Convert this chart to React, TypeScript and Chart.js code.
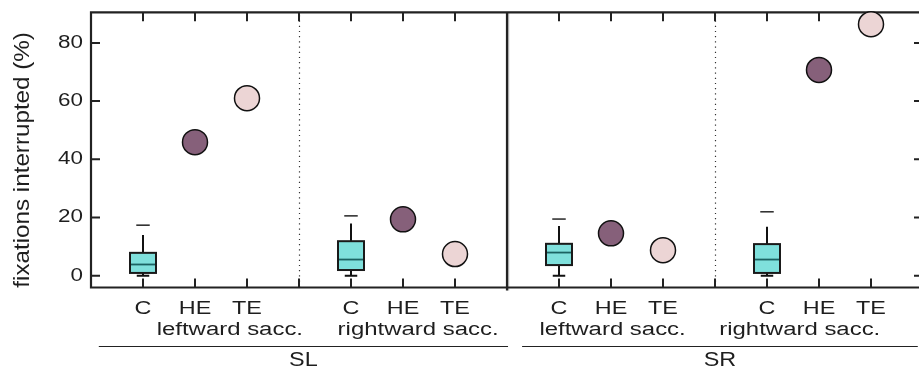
import React, { useEffect, useRef } from 'react';
import { Chart, registerables } from 'chart.js';

Chart.register(...registerables);

// ---------- data ----------
const conditions = ['C', 'HE', 'TE'];
const directions = ['leftward sacc.', 'rightward sacc.', 'leftward sacc.', 'rightward sacc.'];
const sides = ['SL', 'SR'];
const yTickValues = [0, 20, 40, 60, 80];
const yAxisTitle = 'fixations interrupted (%)';

// control (C) box plots, one per group
const boxLow = [0, 0, 0, 0];
const boxQ1 = [1.0, 2.0, 3.7, 1.0];
const boxMedian = [3.9, 5.6, 8.0, 5.6];
const boxQ3 = [7.9, 11.9, 11.0, 10.9];
const boxHigh = [14.0, 18.0, 17.1, 16.9];
const boxOutlier = [17.4, 20.6, 19.5, 22.0];

// single values for HE and TE
const heValues = [45.9, 19.4, 14.6, 70.7];
const teValues = [61.0, 7.5, 8.8, 86.4];

// ---------- layout / style ----------
const FONT = "'Liberation Sans', Arial, Helvetica, sans-serif";
const TEXT = '#1e1e1e';
const GROUP_SPAN = 4; // C, HE, TE, separator
const directionLabelOffset = [1.67, 1.29, 1.03, 0.63];
const sideLineRange = [
  [-0.85, 7.02],
  [7.29, 14.9],
];

function drawText(
  ctx: CanvasRenderingContext2D,
  text: string,
  x: number,
  y: number,
  size: number,
  sx: number,
  align: CanvasTextAlign,
  baseline: CanvasTextBaseline = 'alphabetic',
  rotate = 0
) {
  ctx.save();
  ctx.translate(x, y);
  if (rotate) ctx.rotate(rotate);
  ctx.scale(sx, 1);
  ctx.font = `${size}px ${FONT}`;
  ctx.textAlign = align;
  ctx.textBaseline = baseline;
  ctx.fillStyle = TEXT;
  ctx.fillText(text, 0, 0);
  ctx.restore();
}

const figurePlugin = {
  id: 'figure',
  beforeDatasetsDraw(chart: any) {
    const { ctx, chartArea: a, scales } = chart;
    const x = scales.x;
    const y = scales.y;
    ctx.save();
    // dotted separators within each side
    ctx.strokeStyle = '#333';
    ctx.lineWidth = 1.2;
    ctx.setLineDash([1.2, 4]);
    for (const v of [3, 11]) {
      const px = Math.round(x.getPixelForValue(v)) + 0.5;
      ctx.beginPath();
      ctx.moveTo(px, a.top + 3);
      ctx.lineTo(px, a.bottom);
      ctx.stroke();
    }
    ctx.setLineDash([]);
    // solid separator between SL and SR
    const mid = x.getPixelForValue(7);
    ctx.strokeStyle = '#bbb';
    ctx.lineWidth = 1.5;
    ctx.beginPath();
    ctx.moveTo(mid + 1.5, a.top);
    ctx.lineTo(mid + 1.5, a.bottom + 3);
    ctx.stroke();
    ctx.strokeStyle = '#222';
    ctx.lineWidth = 2.2;
    ctx.beginPath();
    ctx.moveTo(mid, a.top);
    ctx.lineTo(mid, a.bottom + 3);
    ctx.stroke();

    // frame
    ctx.strokeStyle = '#222';
    ctx.lineWidth = 2.2;
    ctx.beginPath();
    ctx.moveTo(a.left, a.top);
    ctx.lineTo(a.right, a.top);
    ctx.moveTo(a.left, a.bottom);
    ctx.lineTo(a.right, a.bottom);
    ctx.moveTo(a.left, a.top - 1);
    ctx.lineTo(a.left, a.bottom + 1);
    ctx.moveTo(a.right, a.top - 1);
    ctx.lineTo(a.right, a.bottom + 1);
    ctx.stroke();
    // inward ticks
    const tl = 9;
    ctx.lineWidth = 2;
    ctx.beginPath();
    for (let v = 0; v <= 14; v++) {
      const px = x.getPixelForValue(v);
      ctx.moveTo(px, a.bottom);
      ctx.lineTo(px, a.bottom - tl);
      ctx.moveTo(px, a.top);
      ctx.lineTo(px, a.top + tl);
    }
    for (const v of yTickValues) {
      const py = y.getPixelForValue(v);
      ctx.moveTo(a.left, py);
      ctx.lineTo(a.left + tl, py);
      ctx.moveTo(a.right, py);
      ctx.lineTo(a.right - tl, py);
    }
    ctx.stroke();

    // box plots
    for (let g = 0; g < boxQ1.length; g++) {
      const c = g * GROUP_SPAN;
      const cx = x.getPixelForValue(c);
      const bl = x.getPixelForValue(c - 0.25);
      const br = x.getPixelForValue(c + 0.25);
      const cl = x.getPixelForValue(c - 0.12);
      const cr = x.getPixelForValue(c + 0.12);
      const yLow = y.getPixelForValue(boxLow[g]);
      const yQ1 = y.getPixelForValue(boxQ1[g]);
      const yMed = y.getPixelForValue(boxMedian[g]);
      const yQ3 = y.getPixelForValue(boxQ3[g]);
      const yHigh = y.getPixelForValue(boxHigh[g]);
      const yOut = y.getPixelForValue(boxOutlier[g]);
      ctx.strokeStyle = '#111';
      ctx.lineWidth = 2;
      ctx.beginPath();
      ctx.moveTo(cx, yQ3);
      ctx.lineTo(cx, yHigh);
      ctx.moveTo(cx, yQ1);
      ctx.lineTo(cx, yLow);
      ctx.moveTo(cl, yLow);
      ctx.lineTo(cr, yLow);
      ctx.stroke();
      // box
      ctx.fillStyle = '#7fe0dc';
      ctx.fillRect(bl, yQ3, br - bl, yQ1 - yQ3);
      ctx.strokeStyle = '#1a1a1a';
      ctx.lineWidth = 2;
      ctx.strokeRect(bl, yQ3, br - bl, yQ1 - yQ3);
      // median
      ctx.strokeStyle = '#1b6262';
      ctx.lineWidth = 1.8;
      ctx.beginPath();
      ctx.moveTo(bl + 1, yMed);
      ctx.lineTo(br - 1, yMed);
      ctx.stroke();
      // outlier dash
      ctx.strokeStyle = '#333';
      ctx.lineWidth = 1.6;
      ctx.beginPath();
      ctx.moveTo(cl - 0.5, yOut);
      ctx.lineTo(cr + 0.5, yOut);
      ctx.stroke();
    }
    ctx.restore();
  },
  afterDraw(chart: any) {
    const { ctx, chartArea: a, scales } = chart;
    const x = scales.x;
    const y = scales.y;
    ctx.save();
    // y tick labels
    for (const v of yTickValues) {
      drawText(ctx, String(v), a.left - 8, y.getPixelForValue(v), 17.5, 1.28, 'right', 'middle');
    }
    // y axis title
    drawText(ctx, yAxisTitle, 23, (a.top + a.bottom) / 2 + 10, 22, 1.1, 'center', 'middle', -Math.PI / 2);

    // condition labels
    for (let g = 0; g < directions.length; g++) {
      conditions.forEach((c, i) => {
        drawText(ctx, c, x.getPixelForValue(g * GROUP_SPAN + i), a.bottom + 26, 18, 1.3, 'center');
      });
      drawText(
        ctx,
        directions[g],
        x.getPixelForValue(g * GROUP_SPAN + directionLabelOffset[g]),
        a.bottom + 47.5,
        18,
        1.33,
        'center'
      );
    }
    // side lines and labels
    ctx.strokeStyle = '#222';
    ctx.lineWidth = 1;
    sides.forEach((s, k) => {
      const x0 = x.getPixelForValue(sideLineRange[k][0]);
      const x1 = x.getPixelForValue(sideLineRange[k][1]);
      const ly = Math.round(a.bottom + 58) + 0.5;
      ctx.beginPath();
      ctx.moveTo(x0, ly);
      ctx.lineTo(x1, ly);
      ctx.stroke();
      drawText(ctx, s, (x0 + x1) / 2, a.bottom + 78.5, 19.5, 1.2, 'center');
    });
    ctx.restore();
  },
};

export default function App() {
  const ref = useRef<HTMLCanvasElement>(null);
  useEffect(() => {
    document.body.style.margin = '0';
    const heData = heValues.map((v, g) => ({ x: g * GROUP_SPAN + 1, y: v }));
    const teData = teValues.map((v, g) => ({ x: g * GROUP_SPAN + 2, y: v }));
    const chart = new Chart(ref.current as HTMLCanvasElement, {
      type: 'scatter',
      data: {
        datasets: [
          {
            label: 'HE',
            data: heData,
            backgroundColor: '#86607a',
            borderColor: '#111',
            borderWidth: 1.5,
            pointRadius: 12.5,
            clip: false,
          },
          {
            label: 'TE',
            data: teData,
            backgroundColor: '#ecd5d5',
            borderColor: '#111',
            borderWidth: 1.5,
            pointRadius: 12.5,
            clip: false,
          },
        ],
      },
      options: {
        animation: false,
        responsive: false,
        devicePixelRatio: 1,
        layout: { autoPadding: false, padding: { top: 12.3, right: 5, left: 0, bottom: 0 } },
        plugins: { legend: { display: false }, tooltip: { enabled: false } },
        scales: {
          x: {
            type: 'linear',
            min: -1,
            max: 15,
            grid: { display: false },
            border: { display: false },
            ticks: { display: false },
            afterFit: (s: any) => {
              s.height = 84.5;
              s.paddingLeft = 0;
              s.paddingRight = 0;
              s.paddingTop = 0;
              s.paddingBottom = 0;
            },
          },
          y: {
            type: 'linear',
            min: -4,
            max: 90.5,
            grid: { display: false },
            border: { display: false },
            ticks: { display: false },
            afterFit: (s: any) => {
              s.width = 91;
              s.paddingLeft = 0;
              s.paddingRight = 0;
              s.paddingTop = 0;
              s.paddingBottom = 0;
            },
          },
        },
      },
      plugins: [figurePlugin],
    } as any);
    return () => chart.destroy();
  }, []);
  return (
    <div style={{ width: 919, height: 372, overflow: 'hidden', position: 'relative', background: '#fff' }}>
      <canvas ref={ref} width={928} height={372} style={{ display: 'block', width: 928, height: 372 }} />
    </div>
  );
}
